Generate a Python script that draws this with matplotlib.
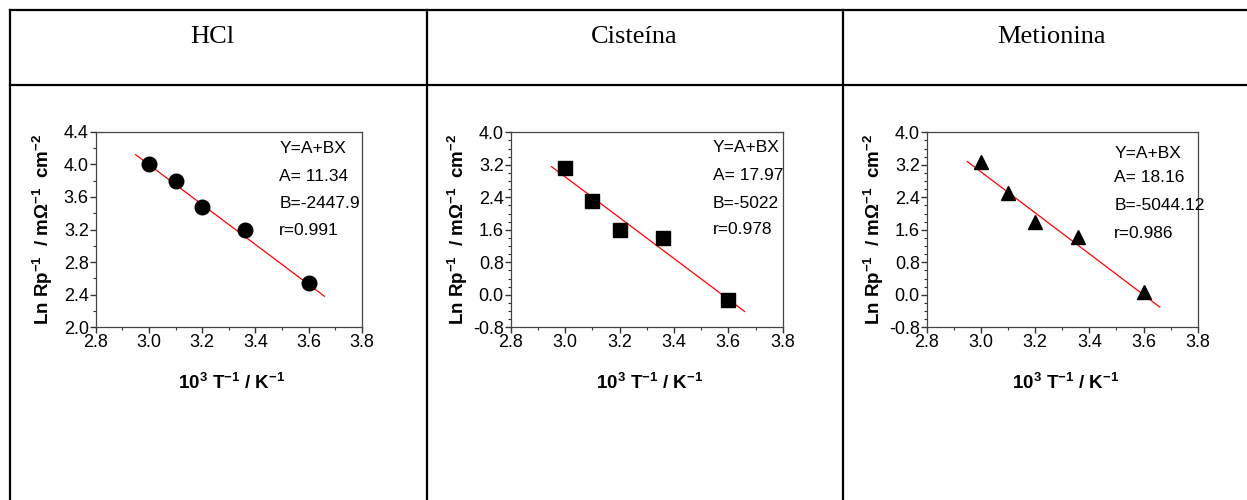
import matplotlib
matplotlib.use("Agg")
import matplotlib.pyplot as plt
from matplotlib.lines import Line2D
from matplotlib.ticker import MultipleLocator, FormatStrFormatter
import numpy as np

# Arrhenius-type data: 10^3/T vs ln(1/Rp)
titles = ["HCl", "Cisteína", "Metionina"]
inv_T = [3.0, 3.1, 3.2, 3.36, 3.6]
ln_hcl = [4.00, 3.80, 3.47, 3.19, 2.54]
ln_cis = [3.12, 2.32, 1.60, 1.40, -0.12]
ln_met = [3.28, 2.50, 1.80, 1.42, 0.08]
fit_A = [11.34, 17.97, 18.16]
fit_B = [-2447.9, -5022, -5044.12]
fit_r = [0.991, 0.978, 0.986]
B_labels = ["-2447.9", "-5022", "-5044.12"]
markers = ["o", "s", "^"]
y_limits = [(2.0, 4.4), (-0.8, 4.0), (-0.8, 4.0)]
y_major = [0.4, 0.8, 0.8]
series = [ln_hcl, ln_cis, ln_met]

sans = ["Liberation Sans", "DejaVu Sans"]
plt.rcParams["font.family"] = sans
plt.rcParams["mathtext.fontset"] = "custom"
plt.rcParams["mathtext.rm"] = "Liberation Sans"
plt.rcParams["mathtext.bf"] = "Liberation Sans:bold"
plt.rcParams["mathtext.it"] = "Liberation Sans:italic"

W, H = 1247, 500
fig = plt.figure(figsize=(W / 100, H / 100), dpi=100)

# table grid
lw_tab = 1.6
def hline(y, x0, x1):
    fig.add_artist(Line2D([x0 / W, x1 / W], [1 - y / H, 1 - y / H],
                          color="black", lw=lw_tab, transform=fig.transFigure))
def vline(x, y0, y1):
    fig.add_artist(Line2D([x / W, x / W], [1 - y0 / H, 1 - y1 / H],
                          color="black", lw=lw_tab, transform=fig.transFigure))

hline(10, 10, W)
hline(84.5, 10, W)
for xv in [10, 426.5, 843]:
    vline(xv, 10, H)

cell_centers = [212, 634.5, 1051]
for t, cx in zip(titles, cell_centers):
    fig.text(cx / W, 1 - 37 / H, t, ha="center", va="center",
             fontsize=19, family=["Liberation Serif", "DejaVu Serif"])

# axes boxes in pixels: left, right, top, bottom
boxes = [(95.7, 361.7, 131.7, 327.3),
         (510.7, 782.7, 132.3, 327.3),
         (926.7, 1197.7, 132.3, 327.3)]
text_left = [0.69, 0.743, 0.692]
text_y = [[148, 176, 203, 230], [148, 175, 203, 229], [153, 178, 206, 233]]

for i in range(3):
    l, r, t, b = boxes[i]
    ax = fig.add_axes([l / W, 1 - b / H, (r - l) / W, (b - t) / H])
    ax.set_xlim(2.8, 3.8)
    ax.set_ylim(*y_limits[i])
    ax.xaxis.set_major_locator(MultipleLocator(0.2))
    ax.xaxis.set_minor_locator(MultipleLocator(0.1))
    ax.yaxis.set_major_locator(MultipleLocator(y_major[i]))
    ax.yaxis.set_minor_locator(MultipleLocator(0.2))
    ax.xaxis.set_major_formatter(FormatStrFormatter("%.1f"))
    ax.yaxis.set_major_formatter(FormatStrFormatter("%.1f"))
    ax.tick_params(which="major", direction="out", length=4, width=1,
                   color="#333333", labelsize=13, pad=1)
    ax.tick_params(which="minor", direction="out", length=2.5, width=0.8,
                   color="#333333")
    for s in ax.spines.values():
        s.set_color("#444444")
        s.set_linewidth(0.9)

    xs = np.array([2.95, 3.66])
    ys = fit_A[i] + fit_B[i] * xs / 1000.0
    ax.plot(xs, ys, color="red", lw=0.9)
    ms = {"o": 10.5, "s": 9.5, "^": 9.5}[markers[i]]
    ax.plot(inv_T, series[i], ls="none", marker=markers[i], color="black",
            markersize=ms)

    lines = ["Y=A+BX", "A= %.2f" % fit_A[i], "B=" + B_labels[i],
             "r=%.3f" % fit_r[i]]
    for s, yp in zip(lines, text_y[i]):
        ax.text(text_left[i], (b - yp) / (b - t), s, transform=ax.transAxes,
                ha="left", va="center", fontsize=12.5)

    fig.text(((l + r) / 2 + 3) / W, 1 - 383 / H,
             r"$\mathbf{10^{3}\ T^{-1}\ /\ K^{-1}}$",
             ha="center", va="center", fontsize=13.5)
    fig.text((l - 53) / W, 1 - ((t + b) / 2) / H,
             r"Ln Rp$^{\mathbf{-1}}$  / m$\mathbf{\Omega}^{\mathbf{-1}}$  cm$^{\mathbf{-2}}$",
             rotation=90, ha="center", va="center", fontsize=13.5,
             fontweight="bold")

fig.savefig("out.png", dpi=100)
